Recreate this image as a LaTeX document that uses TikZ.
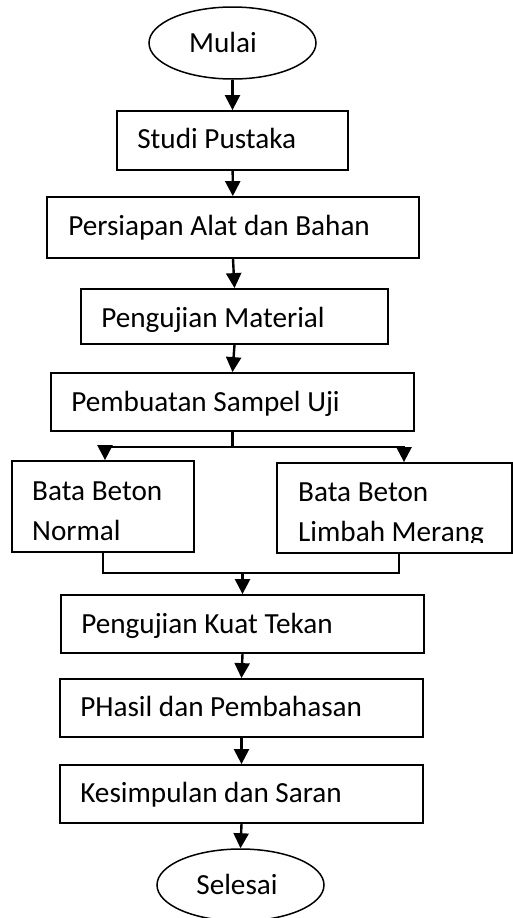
\documentclass[tikz,border=0pt]{standalone}
\usepackage{fontspec}
\setmainfont{Carlito}
\usetikzlibrary{shapes.geometric,arrows.meta}
\begin{document}
\begin{tikzpicture}[x=1pt,y=-1pt,
  every node/.style={font=\fontsize{29.2}{40}\selectfont},
  plainbox/.style={draw, line width=1.8pt, rectangle, inner sep=0pt},
  terminal/.style={draw, line width=1.5pt, ellipse, inner sep=0pt,
    minimum width=167pt, minimum height=72pt, text height=22pt, text depth=3pt},
  linetext/.style={anchor=base west, inner sep=0pt},
  plain/.style={line width=2.4pt},
  conn/.style={line width=2.4pt, -{Triangle[length=15pt,width=15pt]}}
]
% page area
\fill[white] (0,0) rectangle (513,918);
\useasboundingbox (0,0) rectangle (513,918);

% main column: boxes, then their captions 21pt in and 38.5pt down
\node[terminal] (mulai) at (232.5,43) {Mulai\hspace*{19pt}};

\node[plainbox, minimum width=231pt, minimum height=59pt] (studi) at (232.5,140.5) {};
\node[linetext] (studit) at ([xshift=21pt,yshift=-38pt]studi.north west) {Studi Pustaka};

\node[plainbox, minimum width=372pt, minimum height=61pt] (persiapan) at (233,227.5) {};
\node[linetext] (persiapant) at ([xshift=22pt,yshift=-39pt]persiapan.north west) {Persiapan Alat dan Bahan};

\node[plainbox, minimum width=307pt, minimum height=55pt] (pengmat) at (234.5,316.5) {};
\node[linetext] (pengmatt) at ([xshift=21pt,yshift=-39pt]pengmat.north west) {Pengujian Material};

\node[plainbox, minimum width=363pt, minimum height=58pt] (pembuatan) at (232.5,402) {};
\node[linetext] (pembuatant) at ([xshift=21pt,yshift=-39.5pt]pembuatan.north west) {Pembuatan Sampel Uji};

% two branches
\node[plainbox, minimum width=182pt, minimum height=91pt] (bbn) at (103,506.5) {};
\node[linetext] (bbn1) at (32,500) {Bata Beton};
\node[linetext] (bbn2) at (32,540) {Normal};

\node[plainbox, minimum width=235pt, minimum height=90pt] (bblm) at (394.5,508) {};
\begin{scope}
  \clip (bblm.north west) rectangle (bblm.east |- 0,542.5);
  \node[linetext] (bblm1) at (298,501) {Bata Beton};
  \node[linetext] (bblm2) at (298,541) {Limbah Merang};
\end{scope}

\node[plainbox, minimum width=363pt, minimum height=58pt] (pkt) at (242.5,624) {};
\node[linetext] (pktt) at ([xshift=21pt,yshift=-39pt]pkt.north west) {Pengujian Kuat Tekan};

\node[plainbox, minimum width=363pt, minimum height=58pt] (phasil) at (241.5,708) {};
\node[linetext] (phasilt) at ([xshift=21pt,yshift=-38pt]phasil.north west) {PHasil dan Pembahasan};

\node[plainbox, minimum width=363pt, minimum height=58pt] (kesimpulan) at (241.5,794) {};
\node[linetext] (kesimpulant) at ([xshift=21pt,yshift=-38pt]kesimpulan.north west) {Kesimpulan dan Saran};

\node[terminal] (selesai) at (240.5,885) {Selesai\hspace*{7pt}};

% connectors
\draw[conn] (mulai) -- (studi);
\draw[conn] (studi) -- (persiapan);
\draw[conn] (persiapan.south) -- (pengmat.north);
\draw[conn] (pengmat.south) -- (pembuatan.north);

\coordinate (split) at (232.5,447);
\draw[plain] (pembuatan.south) -- (split);
\draw[conn] (split) -| ([xshift=2pt]bbn.north);
\draw[conn] (split) -| ([xshift=9.5pt]bblm.north);

\coordinate (merge) at (242.5,573);
\draw[plain] (bbn.south) |- (merge) -| ([xshift=4.5pt]bblm.south);
\draw[conn] (merge) -- (pkt.north);

\draw[conn] (pkt.south) -- (phasil.north);
\draw[conn] (phasil.south) -- (kesimpulan.north);
\draw[conn] (kesimpulan.south) -- (selesai.north);
\end{tikzpicture}
\end{document}
